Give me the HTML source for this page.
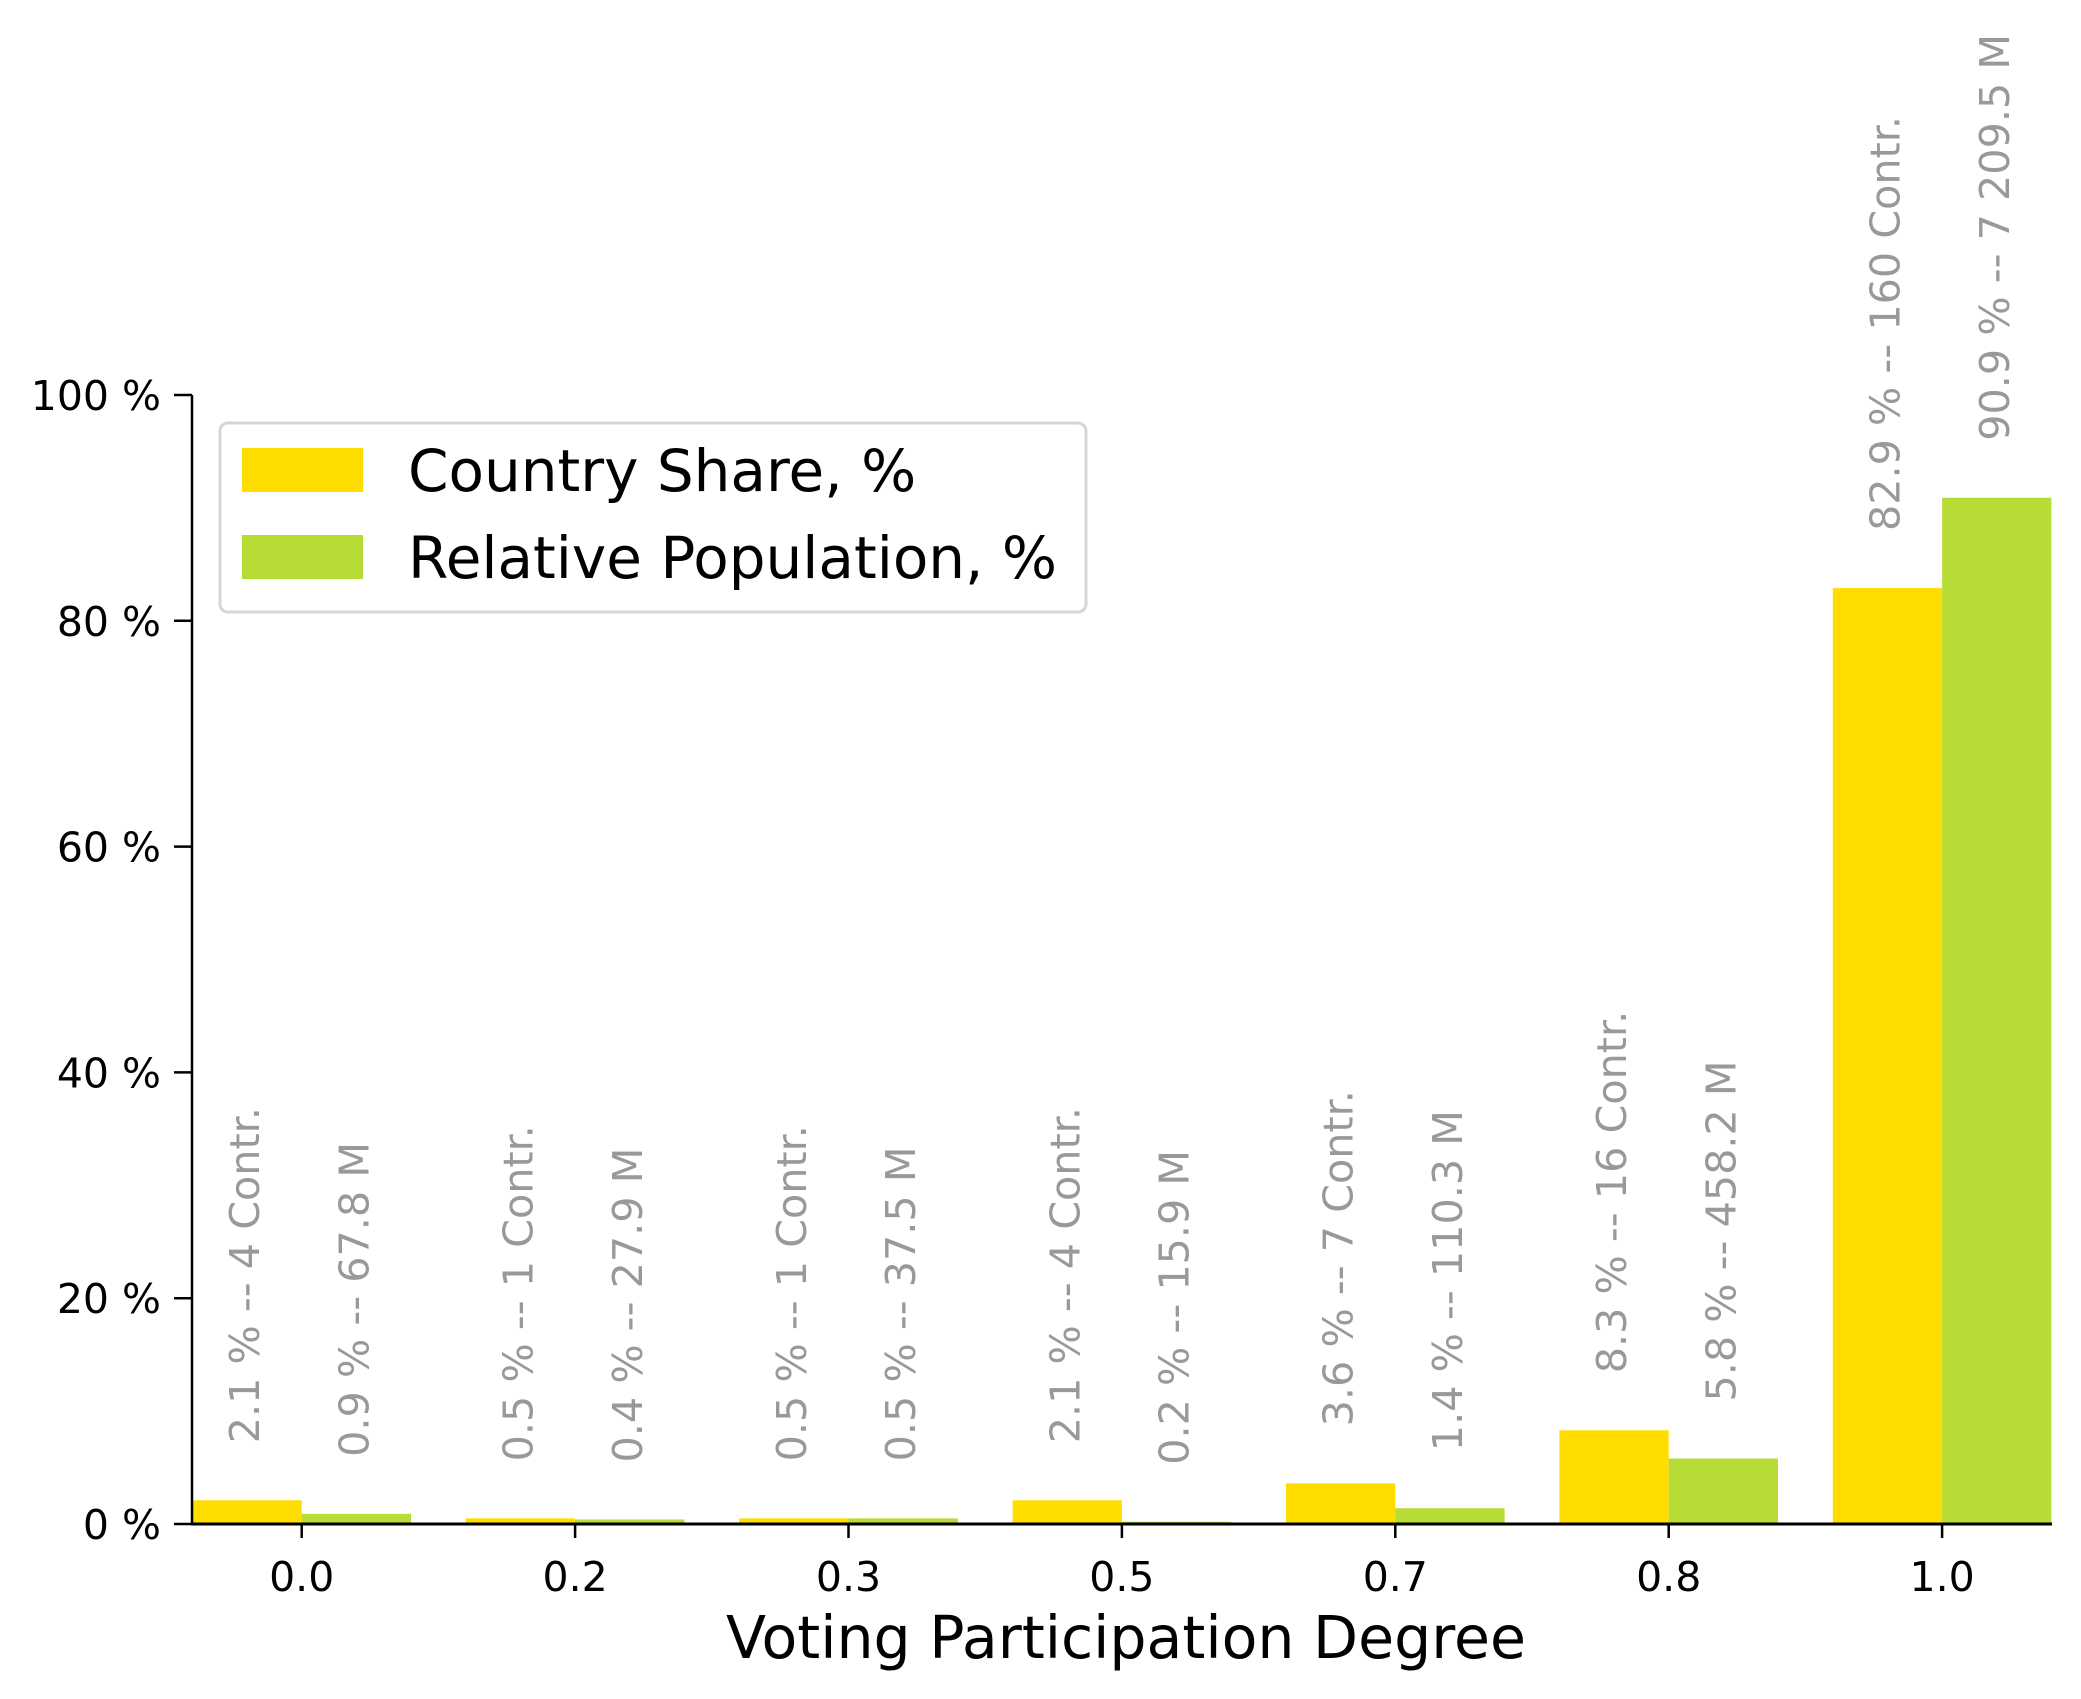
<!DOCTYPE html>
<html><head><meta charset="utf-8"><style>
html,body{margin:0;padding:0;background:#fff}
svg{display:block;font-family:"DejaVu Sans","Liberation Sans",sans-serif}
</style></head><body>
<svg id="chart" width="2081" height="1699" viewBox="0 0 2081 1699">
<g id="bars"></g>
<g id="labels"></g>
<g id="axes"></g>
<text x="1126" y="1658" font-size="58.5" text-anchor="middle" fill="#000">Voting Participation Degree</text>
<g>
<rect x="220" y="423" width="866" height="189" rx="8" fill="#fff" stroke="#d6d6d6" stroke-width="3"/>
<rect x="242" y="448" width="121" height="44" fill="#ffdd00"/>
<text x="408" y="491" font-size="58" fill="#000">Country Share, %</text>
<rect x="242" y="535" width="121" height="44" fill="#b8dc36"/>
<text x="408" y="578" font-size="58" fill="#000">Relative Population, %</text>
</g>
</svg>
<script>
const categories = ["0.0","0.2","0.3","0.5","0.7","0.8","1.0"];
const countryShare = [2.1,0.5,0.5,2.1,3.6,8.3,82.9];
const populationShare = [0.9,0.4,0.5,0.2,1.4,5.8,90.9];
const countryLabels = ["2.1 % -- 4 Contr.","0.5 % -- 1 Contr.","0.5 % -- 1 Contr.","2.1 % -- 4 Contr.","3.6 % -- 7 Contr.","8.3 % -- 16 Contr.","82.9 % -- 160 Contr."];
const populationLabels = ["0.9 % -- 67.8 M","0.4 % -- 27.9 M","0.5 % -- 37.5 M","0.2 % -- 15.9 M","1.4 % -- 110.3 M","5.8 % -- 458.2 M","90.9 % -- 7 209.5 M"];
const yTicks = [0,20,40,60,80,100];

const NS="http://www.w3.org/2000/svg";
const X0=301.7, STEP=273.4, BW=109.3, Y0=1524, YTOP=395;
const xPos=i=>X0+i*STEP;
const yPos=v=>Y0-(v/100)*(Y0-YTOP);
function mk(tag,attrs,parent){const e=document.createElementNS(NS,tag);for(const k in attrs)e.setAttribute(k,attrs[k]);parent.appendChild(e);return e;}
const bars=document.getElementById('bars'),labels=document.getElementById('labels'),axes=document.getElementById('axes');

categories.forEach((c,i)=>{
  const x=xPos(i);
  const r1=mk('rect',{x:x-BW,y:yPos(countryShare[i]),width:BW,height:Y0-yPos(countryShare[i]),fill:'#ffdd00'},bars);
  
  
  const r2=mk('rect',{x:x,y:yPos(populationShare[i]),width:BW,height:Y0-yPos(populationShare[i]),fill:'#b8dc36'},bars);
  
  
  [[x-BW/2,countryShare[i],countryLabels[i],'country'],[x+BW/2,populationShare[i],populationLabels[i],'population']].forEach(([cx,v,t,n])=>{
    const ly=yPos(v)-57;
    const tx=mk('text',{x:0,y:0,'font-size':41.3,fill:'#999','text-anchor':'start',transform:`translate(${cx+12},${ly}) rotate(-90)`},labels);
    tx.textContent=t;
    
    
  });
  const tk=mk('line',{x1:x,x2:x,y1:Y0,y2:Y0+14,stroke:'#000','stroke-width':2.5},axes);
  
  
  const tl=mk('text',{x:x,y:1591,'font-size':41,'text-anchor':'middle',fill:'#000'},axes);
  tl.textContent=c;
  
  
});
yTicks.forEach(v=>{
  const y=yPos(v);
  const tk=mk('line',{x1:174,x2:192,y1:y,y2:y,stroke:'#000','stroke-width':2.5},axes);
  
  
  const tl=mk('text',{x:161,y:y+15,'font-size':41,'text-anchor':'end',fill:'#000'},axes);
  tl.textContent=v+' %';
  
  
});
const ya=mk('line',{x1:192,x2:192,y1:YTOP,y2:Y0+1,stroke:'#000','stroke-width':2.5},axes);


const xa=mk('line',{x1:191,x2:2052,y1:Y0,y2:Y0,stroke:'#000','stroke-width':3},axes);


</script>
</body></html>
